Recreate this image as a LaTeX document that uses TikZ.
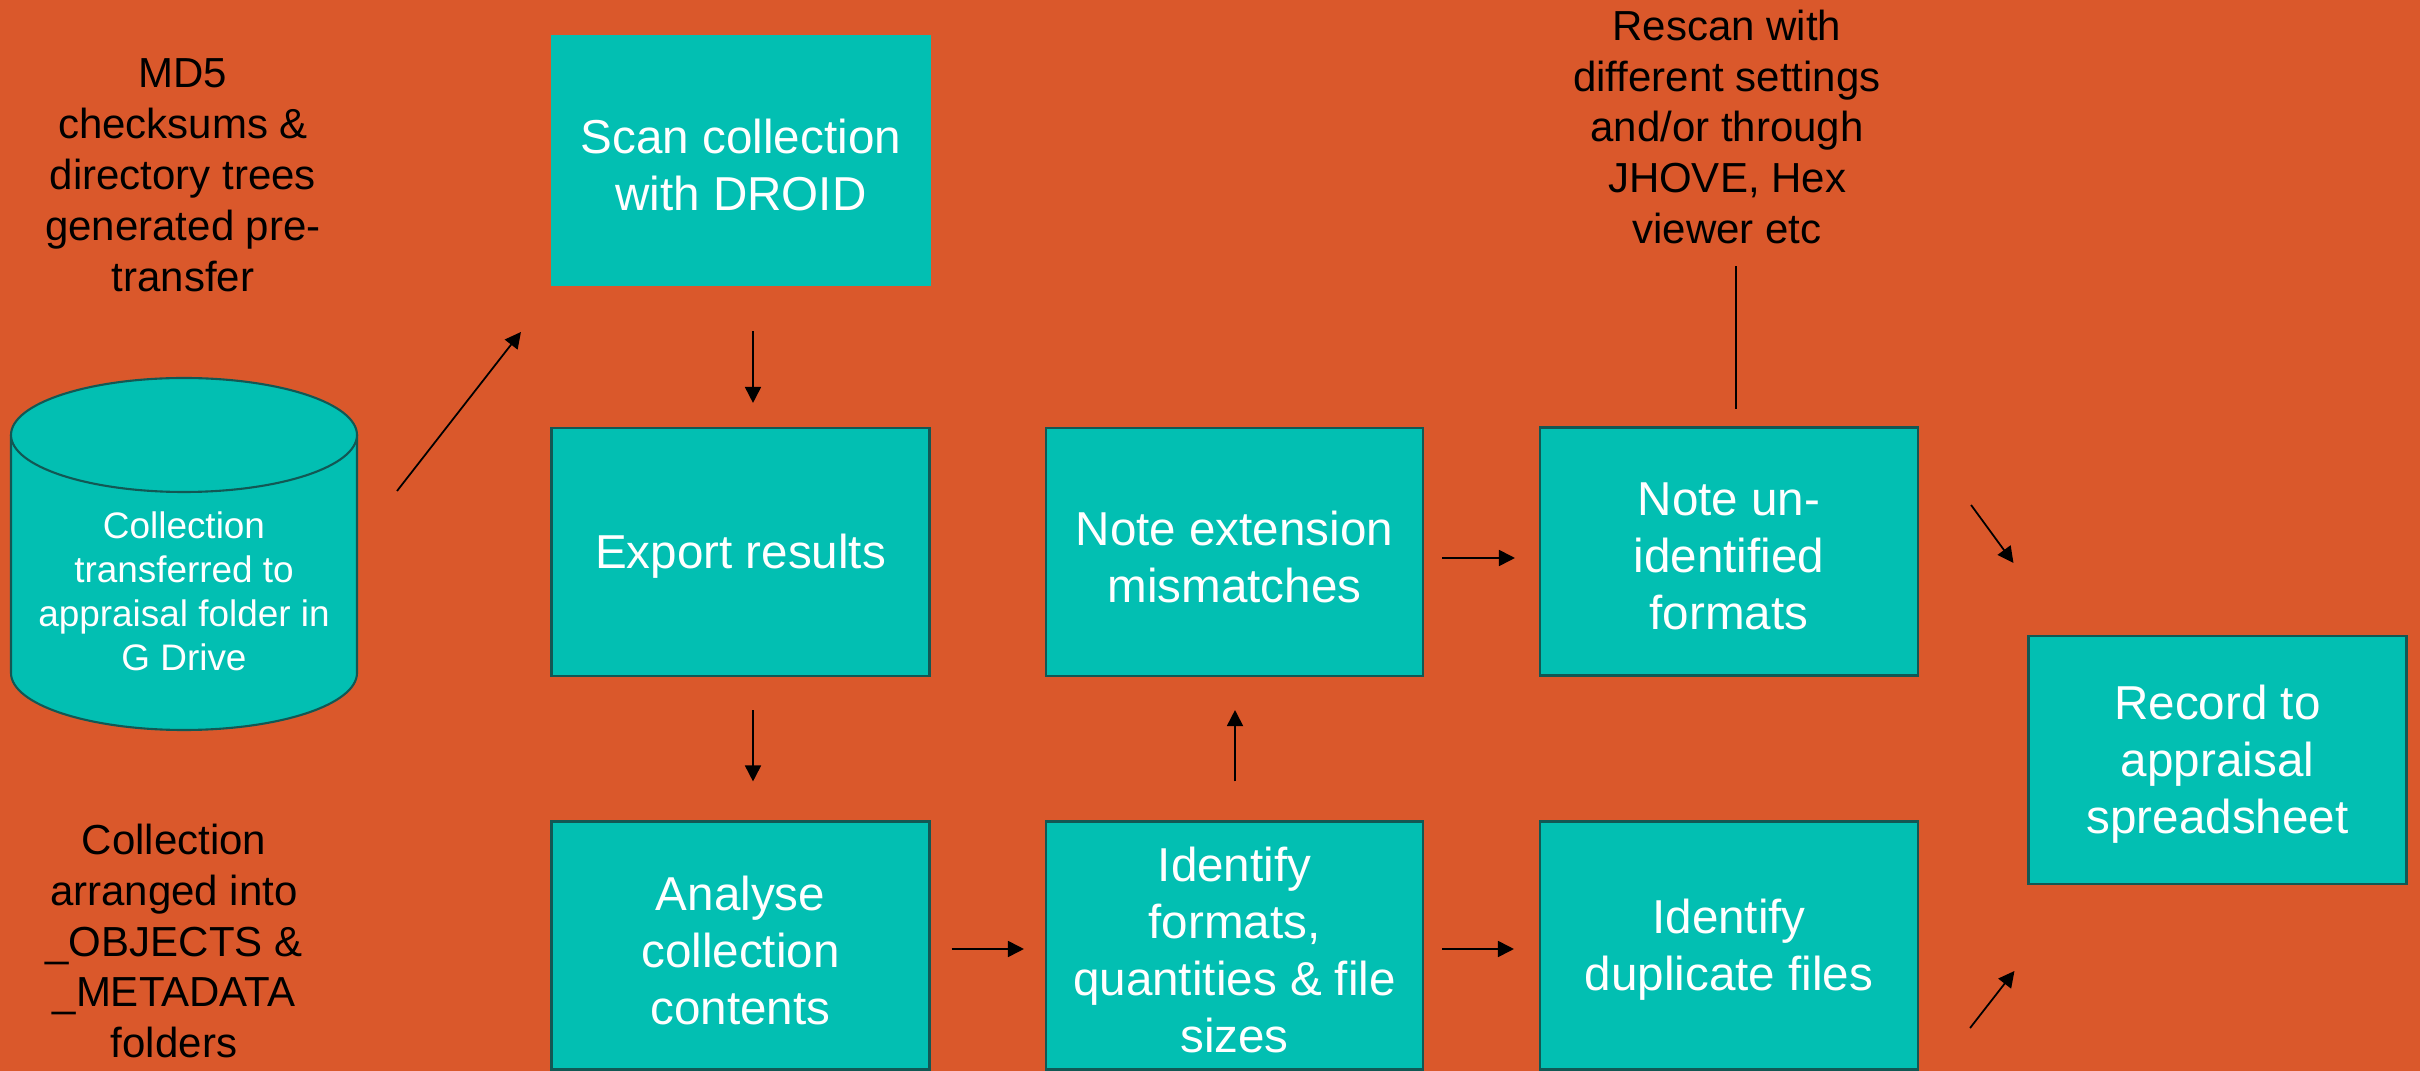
\documentclass[tikz,border=0pt]{standalone}
\usepackage{fontspec}
\setmainfont{Liberation Sans}
\usetikzlibrary{arrows.meta,calc}
\definecolor{bg}{RGB}{218,88,43}
\definecolor{tealfill}{RGB}{2,191,178}
\definecolor{tealedge}{RGB}{18,88,84}
\begin{document}
\begin{tikzpicture}[x=0.1mm,y=-0.1mm,
  box/.style={rectangle, fill=tealfill, draw=tealedge, line width=0.6pt,
    inner sep=0pt, minimum width=37.8mm, minimum height=24.8mm},
  boxtext/.style={text=white, align=center, inner sep=0pt, yshift=-0.46mm,
    font=\fontsize{13.54}{16.2}\selectfont},
  plainbox/.style={box, draw=none},
  note/.style={align=center, inner sep=0pt, text=black, font=\fontsize{11.95}{14.5}\selectfont},
  cyltext/.style={align=center, inner sep=0pt, text=white, font=\fontsize{10.5}{12.5}\selectfont},
  arr/.style={-{Triangle[length=1.6mm,width=1.6mm]}, line width=0.5pt, black},
  thin/.style={line width=0.3pt, black}]
\useasboundingbox (0,0) rectangle (2420,1071);
\fill[bg] (0,0) rectangle (2420,1071);

% cylinder
\path[fill=tealfill, draw=tealedge, line width=0.6pt]
  (11,435) -- (11,673) arc[start angle=180, end angle=360, x radius=17.3mm, y radius=5.7mm] -- (357,435);
\draw[fill=tealfill, draw=tealedge, line width=0.6pt] (184,435) ellipse [x radius=17.3mm, y radius=5.7mm];
\node[cyltext] (cyl) at (184,591) {Collection\\transferred to\\appraisal folder in\\G Drive};

% annotations
\node[note] (md5) at (183,175) {MD5\\checksums \&\\directory trees\\generated pre-\\transfer};
\node[note] (arranged) at (174,941) {Collection\\arranged into\\\_OBJECTS \&\\\_METADATA\\folders};
\node[note] (rescan) at (1727,127) {Rescan with\\different settings\\and/or through\\JHOVE, Hex\\viewer etc};

% boxes
\node[plainbox, minimum width=38mm, minimum height=25.1mm,
  label={[boxtext]center:{Scan collection\\with DROID}}] (scan) at (741,160.5) {};
\node[box, label={[boxtext]center:{Export results}}] (export) at (740.5,552) {};
\node[box, label={[boxtext]center:{Analyse\\collection\\contents}}] (analyse) at (740.5,945.5) {};
\node[box, minimum width=37.7mm, label={[boxtext]center:{Note extension\\mismatches}}] (noteext) at (1234.5,552) {};
\node[box, minimum width=37.7mm, label={[boxtext]center:{Identify\\formats,\\quantities \& file\\sizes}}] (identify) at (1234.5,945.5) {};
\node[box, label={[boxtext]center:{Note un-\\identified\\formats}}] (noteun) at (1729,551.5) {};
\node[box, label={[boxtext]center:{Identify\\duplicate files}}] (dup) at (1729,945.5) {};
\node[box, label={[boxtext]center:{Record to\\appraisal\\spreadsheet}}] (record) at (2217.5,760) {};

% connectors
\coordinate (cylout) at (397,491);
\draw[arr] (cylout) -- ($(scan.west)+(-29,171.5)$);
\draw[arr] ($(scan.south)+(12,44)$) -- ($(export.north)+(12.5,-24)$);
\draw[arr] ($(export.south)+(12.5,33)$) -- ($(analyse.north)+(12.5,-39)$);
\draw[arr] ($(analyse.east)+(21,3.5)$) -- ($(identify.west)+(-21,3.5)$);
\draw[arr] ($(identify.east)+(18,3.5)$) -- ($(dup.west)+(-25,3.5)$);
\draw[arr] ($(identify.north)+(0.5,-39)$) -- ($(noteext.south)+(0.5,33)$);
\draw[arr] ($(noteext.east)+(18,6)$) -- ($(noteun.west)+(-24,6.5)$);
\draw[thin] ($(noteun.north)+(7,-160)$) -- ($(noteun.north)+(7,-17)$);
\draw[arr] ($(noteun.east)+(52,-46.5)$) -- ($(record.west)+(-14,-197)$);
\draw[arr] ($(dup.east)+(51,82.5)$) -- ($(record.west)+(-13,211)$);
\end{tikzpicture}
\end{document}
